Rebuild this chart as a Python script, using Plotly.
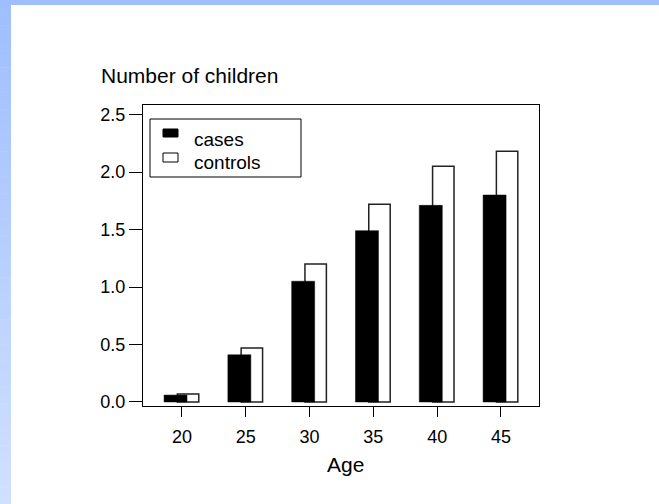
import plotly.graph_objects as go

# Mean number of children by age group
ages = [20, 25, 30, 35, 40, 45]
cases = [0.06, 0.41, 1.05, 1.49, 1.71, 1.80]
controls = [0.07, 0.47, 1.20, 1.72, 2.05, 2.18]
y_ticks = [0.0, 0.5, 1.0, 1.5, 2.0, 2.5]
series_names = ["cases", "controls"]

W, H = 659, 504
L, R, T, B = 143, 539, 105, 406   # plot area in pixels
FONT = "Liberation Sans, Arial, sans-serif"


def px_x(p):
    return (p - L) / (R - L)


def px_y(p):
    return (B - p) / (B - T)


fig = go.Figure()

# controls sit behind, shifted right; cases in front, shifted left
fig.add_trace(go.Bar(
    x=ages, y=controls, name=series_names[1],
    offset=-0.36, width=1.68,
    marker=dict(color="white", line=dict(color="#222222", width=1.5)),
    showlegend=False,
))
fig.add_trace(go.Bar(
    x=ages, y=cases, name=series_names[0],
    offset=-1.4, width=1.8,
    marker=dict(color="black", line=dict(color="black", width=0.5)),
    showlegend=False,
))

shapes = []

# page frame: flat strip along the top, soft blue gradient down the left edge
shapes.append(dict(type="rect", xref="paper", yref="paper",
                   x0=px_x(0), x1=px_x(W), y0=px_y(5), y1=px_y(0),
                   fillcolor="#9ebeff", line=dict(width=0), layer="below"))
n_steps = 60
top_rgb = (0x9e, 0xbe, 0xff)
bot_rgb = (0xd0, 0xe0, 0xff)
for i in range(n_steps):
    t = i / (n_steps - 1)
    c = tuple(round(a + (b - a) * t) for a, b in zip(top_rgb, bot_rgb))
    y0p = i * H / n_steps
    y1p = (i + 1) * H / n_steps
    shapes.append(dict(type="rect", xref="paper", yref="paper",
                       x0=px_x(0), x1=px_x(11), y0=px_y(y1p + 0.5), y1=px_y(y0p),
                       fillcolor="rgb(%d,%d,%d)" % c, line=dict(width=0),
                       layer="below"))

# legend box and swatches
shapes.append(dict(type="rect", xref="paper", yref="paper",
                   x0=px_x(150), x1=px_x(301), y0=px_y(177), y1=px_y(119),
                   fillcolor="white", line=dict(color="black", width=1)))
shapes.append(dict(type="rect", xref="paper", yref="paper",
                   x0=px_x(163), x1=px_x(178), y0=px_y(137), y1=px_y(129),
                   fillcolor="black", line=dict(color="black", width=1)))
shapes.append(dict(type="rect", xref="paper", yref="paper",
                   x0=px_x(163), x1=px_x(178), y0=px_y(162), y1=px_y(153),
                   fillcolor="white", line=dict(color="black", width=1)))

annotations = [
    dict(text=series_names[0], xref="paper", yref="paper",
         x=px_x(192), y=px_y(139), xanchor="left", yanchor="middle",
         showarrow=False, font=dict(family=FONT, size=19, color="black")),
    dict(text=series_names[1], xref="paper", yref="paper",
         x=px_x(192), y=px_y(162), xanchor="left", yanchor="middle",
         showarrow=False, font=dict(family=FONT, size=19, color="black")),
    dict(text="Number of children", xref="paper", yref="paper",
         x=px_x(99), y=px_y(76), xanchor="left", yanchor="middle",
         showarrow=False, font=dict(family=FONT, size=21, color="black")),
    dict(text="Age", xref="paper", yref="paper",
         x=px_x(345), y=px_y(464), xanchor="center", yanchor="middle",
         showarrow=False, font=dict(family=FONT, size=21, color="black")),
]

fig.update_layout(
    width=W, height=H,
    margin=dict(l=L, r=W - R, t=T, b=H - B, pad=0),
    paper_bgcolor="white", plot_bgcolor="white",
    barmode="overlay",
    showlegend=False,
    shapes=shapes,
    annotations=annotations,
    font=dict(family=FONT, size=18, color="black"),
    xaxis=dict(
        range=[16.95, 47.98], tickvals=ages, ticktext=[str(a) for a in ages],
        ticks="outside", ticklen=10, tickwidth=1, tickcolor="black",
        ticklabelstandoff=4,
        showline=True, linecolor="black", linewidth=1, mirror=True,
        showgrid=False, zeroline=False,
        tickfont=dict(family=FONT, size=18, color="black"),
    ),
    yaxis=dict(
        range=[-0.035, 2.583], tickvals=y_ticks,
        ticktext=["%.1f" % v for v in y_ticks],
        ticks="outside", ticklen=13, tickwidth=1, tickcolor="black",
        showline=True, linecolor="black", linewidth=1, mirror=True,
        showgrid=False, zeroline=False,
        tickfont=dict(family=FONT, size=18, color="black"),
    ),
)

fig.write_html("out.html")
